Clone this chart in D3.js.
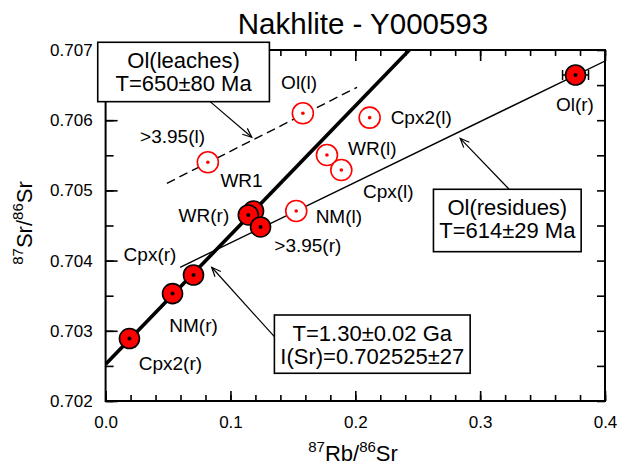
<!DOCTYPE html>
<html lang="en">
<head>
  <meta charset="UTF-8" />
  <title>Nakhlite - Y000593</title>
  <script src="https://d3js.org/d3.v7.min.js"></script>
  <style>
    body { margin: 0; background: #fff; font-family: "Liberation Sans", Arial, sans-serif; }
    svg text { font-family: "Liberation Sans", Arial, sans-serif; fill: #000; }
  </style>
</head>
<body>
  <svg width="618" height="472"></svg>

  <script>
  // residues (filled) and leaches (open)
  const residueNames = ["Cpx2(r)", "NM(r)", "Cpx(r)", "WR1", "WR(r)", ">3.95(r)", "Ol(r)"];
  const residueRb = [0.0191, 0.0536, 0.0704, 0.1185, 0.1143, 0.1241, 0.3764];
  const residueSr = [0.70289, 0.70353, 0.703795, 0.704707, 0.70465, 0.704479, 0.706644];

  const leachNames = [">3.95(l)", "Ol(l)", "NM(l)", "WR(l)", "Cpx(l)", "Cpx2(l)"];
  const leachRb = [0.0819, 0.158, 0.1527, 0.1773, 0.1888, 0.2115];
  const leachSr = [0.7054, 0.706098, 0.704707, 0.705504, 0.70529, 0.706036];

  // isochron end points
  const isoRb = [0, 0.2433], isoSr = [0.702525, 0.707];
  const resLineRb = [0.0597, 0.4], resLineSr = [0.703905, 0.706843];
  const leachLineRb = [0.0491, 0.2014], leachLineSr = [0.705101, 0.706469];

  const olErr = 0.0104;

  const xTicks = [0, 0.1, 0.2, 0.3, 0.4];
  const yTicks = [0.702, 0.703, 0.704, 0.705, 0.706, 0.707];

  const boxTexts = [
    ["Ol(leaches)", "T=650\u00b180 Ma"],
    ["Ol(residues)", "T=614\u00b129 Ma"],
    ["T=1.30\u00b10.02 Ga", "I(Sr)=0.702525\u00b127"]
  ];
  // label offsets in px from each point (middle anchor, baseline)
  const labelOff = {
    "Cpx2(r)": [41, 31.5], "NM(r)": [21, 38], "Cpx(r)": [-43.5, -14.3],
    "WR1": [-12, -23.7], "WR(r)": [-44.4, 6.7], ">3.95(r)": [47.3, 24.7],
    "Ol(r)": [-0.6, 36], ">3.95(l)": [-35.3, -19], "Ol(l)": [-3.8, -24.5],
    "NM(l)": [42.6, 12.2], "WR(l)": [45.3, 0], "Cpx(l)": [47, 28], "Cpx2(l)": [51.6, 6.2]
  };

  const svg = d3.select("svg");
  const x = d3.scaleLinear().domain([0, 0.4]).range([105.6, 605]);
  const y = d3.scaleLinear().domain([0.702, 0.707]).range([401, 50]);

  svg.append("defs").append("clipPath").attr("id", "clip")
    .append("rect").attr("x", 105.6).attr("y", 50).attr("width", 605 - 105.6).attr("height", 351);

  // title
  svg.append("text")
    .attr("x", 363).attr("y", 34)
    .attr("text-anchor", "middle")
    .style("font-size", "29.5px")
    .text("Nakhlite - Y000593");

  // axes: minor ticks then major ticks, all pointing inward
  const minorX = d3.range(0, 0.4001, 0.02);
  const minorY = d3.range(0.702, 0.70701, 0.0005);

  svg.append("g").attr("transform", "translate(0,401)")
    .call(d3.axisBottom(x).tickValues(minorX).tickSize(-6).tickSizeOuter(0).tickFormat(""));
  svg.append("g").attr("transform", "translate(0,401)")
    .call(d3.axisBottom(x).tickValues(xTicks).tickSize(-10).tickSizeOuter(0).tickPadding(15)
      .tickFormat(d3.format(".1f")));
  svg.append("g").attr("transform", "translate(0,50)")
    .call(d3.axisTop(x).tickValues(minorX).tickSize(-6).tickSizeOuter(0).tickFormat(""));
  svg.append("g").attr("transform", "translate(0,50)")
    .call(d3.axisTop(x).tickValues(xTicks).tickSize(-11).tickSizeOuter(0).tickFormat(""));
  svg.append("g").attr("transform", "translate(105.6,0)")
    .call(d3.axisLeft(y).tickValues(minorY).tickSize(-8).tickSizeOuter(0).tickFormat(""));
  svg.append("g").attr("transform", "translate(105.6,0)")
    .call(d3.axisLeft(y).tickValues(yTicks).tickSize(-12).tickSizeOuter(0).tickPadding(13)
      .tickFormat(d3.format(".3f")));
  svg.append("g").attr("transform", "translate(605,0)")
    .call(d3.axisRight(y).tickValues(minorY).tickSize(-8).tickSizeOuter(0).tickFormat(""));

  svg.selectAll(".tick line").attr("stroke-width", 1.6);
  svg.selectAll(".domain").remove();
  svg.selectAll(".tick text").style("font-size", "17px").attr("fill", "#000");

  svg.append("rect")
    .attr("x", 105.6).attr("y", 50).attr("width", 605 - 105.6).attr("height", 351)
    .attr("fill", "none").attr("stroke", "#000").attr("stroke-width", 2);

  // axis titles
  const xl = svg.append("text").attr("x", 353).attr("y", 461)
    .attr("text-anchor", "middle").style("font-size", "22px");
  xl.append("tspan").attr("dy", -9).style("font-size", "15px").text("87");
  xl.append("tspan").attr("dy", 9).text("Rb/");
  xl.append("tspan").attr("dy", -9).style("font-size", "15px").text("86");
  xl.append("tspan").attr("dy", 9).text("Sr");

  const yl = svg.append("text").attr("transform", "translate(32,223) rotate(-90)")
    .attr("text-anchor", "middle").style("font-size", "22px");
  yl.append("tspan").attr("dy", -9).style("font-size", "15px").text("87");
  yl.append("tspan").attr("dy", 9).text("Sr/");
  yl.append("tspan").attr("dy", -9).style("font-size", "15px").text("86");
  yl.append("tspan").attr("dy", 9).text("Sr");

  // lines
  const plot = svg.append("g").attr("clip-path", "url(#clip)");
  const seg = (rb, sr) => d3.line()(rb.map((v, i) => [x(v), y(sr[i])]));

  plot.append("path").attr("d", seg(resLineRb, resLineSr))
    .attr("fill", "none").attr("stroke", "#000").attr("stroke-width", 1.4);
  plot.append("path").attr("d", seg(leachLineRb, leachLineSr))
    .attr("fill", "none").attr("stroke", "#000").attr("stroke-width", 1.4)
    .attr("stroke-dasharray", "9,5");
  plot.append("path").attr("d", seg(isoRb, isoSr))
    .attr("fill", "none").attr("stroke", "#000").attr("stroke-width", 3.6);

  // Ol(r) error bar
  const oi = residueNames.indexOf("Ol(r)");
  const ex0 = x(residueRb[oi] - olErr), ex1 = x(residueRb[oi] + olErr), ey = y(residueSr[oi]);
  const eb = svg.append("g").attr("stroke", "#000").attr("stroke-width", 1.5);
  eb.append("line").attr("x1", ex0).attr("x2", ex1).attr("y1", ey).attr("y2", ey);
  eb.append("line").attr("x1", ex0).attr("x2", ex0).attr("y1", ey - 5).attr("y2", ey + 5);
  eb.append("line").attr("x1", ex1).attr("x2", ex1).attr("y1", ey - 5).attr("y2", ey + 5);

  // points
  const residues = residueNames.map((n, i) => ({ name: n, rb: residueRb[i], sr: residueSr[i] }));
  const leaches = leachNames.map((n, i) => ({ name: n, rb: leachRb[i], sr: leachSr[i] }));

  const lg = svg.append("g").selectAll("g").data(leaches).enter().append("g")
    .attr("transform", d => `translate(${x(d.rb)},${y(d.sr)})`);
  lg.append("circle").attr("r", 10.5).attr("fill", "#fff").attr("stroke", "#ff0000").attr("stroke-width", 1.6);
  lg.append("circle").attr("r", 1.8).attr("fill", "#ff0000");

  const rg = svg.append("g").selectAll("g").data(residues).enter().append("g")
    .attr("transform", d => `translate(${x(d.rb)},${y(d.sr)})`);
  rg.append("circle").attr("r", 10).attr("fill", "#ff0000").attr("stroke", "#000").attr("stroke-width", 1.6);
  rg.append("circle").attr("r", 2).attr("fill", "#000");

  // point labels
  svg.append("g").selectAll("text").data(residues.concat(leaches)).enter().append("text")
    .attr("x", d => x(d.rb) + labelOff[d.name][0])
    .attr("y", d => y(d.sr) + labelOff[d.name][1])
    .attr("text-anchor", "middle")
    .style("font-size", "19px")
    .text(d => d.name);

  // arrows (data coords: from, to)
  const arrows = [
    [[0.0837, 0.706264], [0.1171, 0.705756]],
    [[0.3232, 0.705016], [0.2840, 0.705742]],
    [[0.1352, 0.702916], [0.0850, 0.703905]]
  ];
  const ag = svg.append("g").attr("stroke", "#000").attr("stroke-width", 1.2).attr("fill", "none");
  arrows.forEach(([a, b]) => {
    const x0 = x(a[0]), y0 = y(a[1]), x1 = x(b[0]), y1 = y(b[1]);
    const ang = Math.atan2(y1 - y0, x1 - x0);
    const L = 10, w = 0.4;
    ag.append("line").attr("x1", x0).attr("y1", y0).attr("x2", x1).attr("y2", y1);
    ag.append("path").attr("d",
      `M${x1 - L * Math.cos(ang - w)},${y1 - L * Math.sin(ang - w)}L${x1},${y1}` +
      `L${x1 - L * Math.cos(ang + w)},${y1 - L * Math.sin(ang + w)}`);
  });

  // annotation boxes (data coords: x0, x1, yTop, yBottom)
  const boxes = [
    [-0.0063, 0.1312, 0.70711, 0.706264],
    [0.2626, 0.3809, 0.705016, 0.704127],
    [0.1352, 0.2920, 0.703225, 0.702395]
  ];
  boxes.forEach((b, i) => {
    const bx = x(b[0]), bw = x(b[1]) - x(b[0]), by = y(b[2]), bh = y(b[3]) - y(b[2]);
    const g = svg.append("g");
    g.append("rect").attr("x", bx).attr("y", by).attr("width", bw).attr("height", bh)
      .attr("fill", "#fff").attr("stroke", "#000").attr("stroke-width", 1.6);
    boxTexts[i].forEach((t, j) => {
      g.append("text").attr("x", bx + bw / 2).attr("y", by + 25.5 + j * 23)
        .attr("text-anchor", "middle").style("font-size", "22px").text(t);
    });
  });
  </script>
</body>
</html>
